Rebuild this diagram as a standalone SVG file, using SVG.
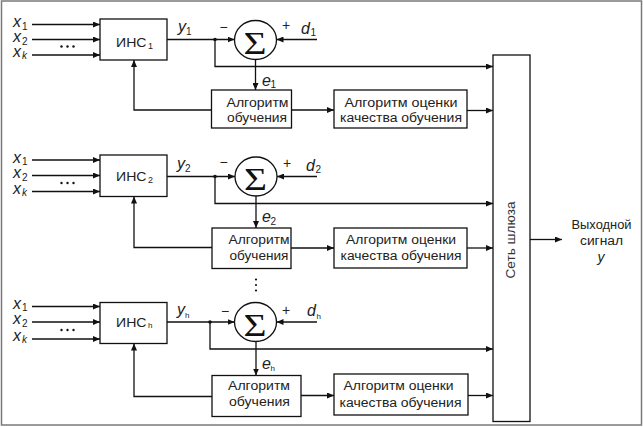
<svg xmlns="http://www.w3.org/2000/svg" width="643" height="427" viewBox="0 0 643 427">
<defs>
<marker id="ar" markerUnits="userSpaceOnUse" markerWidth="8" markerHeight="6" refX="7" refY="3" orient="auto">
<path d="M0,0 L7,3 L0,6 z" fill="#111"/>
</marker>
<style>
.ln{fill:none;stroke:#111;stroke-width:1.3}
.ln path{marker-end:url(#ar)}
.bx{fill:#fff;stroke:#111;stroke-width:1.3}
.cr{fill:#fff;stroke:#111;stroke-width:1.3}
.t{font-family:"Liberation Sans",Arial,sans-serif;font-size:12px;fill:#222}
.m{text-anchor:middle}
.i{font-family:"Liberation Sans",Arial,sans-serif;font-style:italic;font-size:16px;fill:#222}
.s{font-family:"Liberation Sans",Arial,sans-serif;font-size:10px;fill:#222;font-style:normal}
.si{font-family:"Liberation Sans",Arial,sans-serif;font-size:10px;fill:#222;font-style:italic}
.sg{font-family:"Liberation Serif","Times New Roman",serif;font-size:32px;fill:#111;text-anchor:middle}
.pm{font-family:"Liberation Sans",Arial,sans-serif;font-size:14px;fill:#222}
.dot{fill:#111}
</style>
</defs>
<rect x="0" y="0" width="643" height="427" fill="#fff"/>
<rect x="1.5" y="1" width="640" height="424" fill="#fff" stroke="#7a7a7a" stroke-width="1.5"/>

<g id="connectors" class="ln">
<path d="M32,24.5 H100"/><path d="M32,39.5 H100"/><path d="M32,55 H100"/>
<path d="M167,39.5 H234.5"/>
<path d="M317,39.5 H276.5"/>
<path d="M215,39.5 V66.5 H493"/>
<path d="M255.5,59.5 V90"/>
<path d="M291.5,110 H334"/>
<path d="M467,110.5 H493"/>
<path d="M211.5,110 H134 V60"/>
<path d="M32,160 H100"/><path d="M32,175.5 H100"/><path d="M32,191.5 H100"/>
<path d="M167,176.5 H235"/>
<path d="M317,176.5 H277"/>
<path d="M215,176.5 V203.5 H493"/>
<path d="M256,196 V228"/>
<path d="M291,248 H334"/>
<path d="M467,248 H493"/>
<path d="M212,247.5 H134 V196.5"/>
<path d="M32,306.5 H100"/><path d="M32,322 H100"/><path d="M32,339 H100"/>
<path d="M167,322 H234.5"/>
<path d="M317,322 H276.5"/>
<path d="M210,322 V349 H493"/>
<path d="M256,341.5 V375.5"/>
<path d="M301,395.5 H334"/>
<path d="M468,395.5 H493"/>
<path d="M212,396.5 H134 V343.5"/>
<path d="M530,239.5 H562"/>
</g>

<g id="junctions">
<circle class="dot" cx="215" cy="39.5" r="1.8"/>
<circle class="dot" cx="215" cy="176.5" r="1.8"/>
<circle class="dot" cx="210" cy="322" r="1.8"/>
</g>

<g id="inputs1">
<text class="i" x="13" y="27">x<tspan class="s" x="22" y="29.5">1</tspan></text>
<text class="i" x="13" y="41.5">x<tspan class="s" x="22" y="45">2</tspan></text>
<text class="i" x="13" y="56.5">x<tspan class="si" x="22" y="59">k</tspan></text>
<circle class="dot" cx="61.5" cy="46.5" r="1.2"/><circle class="dot" cx="67.5" cy="46.5" r="1.2"/><circle class="dot" cx="73.5" cy="46.5" r="1.2"/>
</g>
<g id="ins1">
<rect class="bx" x="100" y="19" width="67" height="41"/>
<text class="t" x="116" y="46.5" textLength="30.5" lengthAdjust="spacingAndGlyphs">ИНС</text>
<text class="s" x="148" y="48.5" style="font-size:9px">1</text>
</g>
<g id="labels1">
<text class="i" x="178" y="31.5">y<tspan class="s" x="186" y="34.5">1</tspan></text>
<text class="pm" x="219.5" y="31.5">−</text>
<text class="pm" x="282" y="29.5">+</text>
<text class="i" x="301" y="33.5">d<tspan class="s" x="310.5" y="36">1</tspan></text>
<text class="i" x="262" y="85.5">e<tspan class="s" x="270.5" y="88">1</tspan></text>
</g>
<g id="sum1">
<ellipse class="cr" cx="255.5" cy="40" rx="21" ry="19.5"/>
<text class="sg" x="255" y="53.5" textLength="23" lengthAdjust="spacingAndGlyphs">Σ</text>
</g>
<g id="alg1">
<rect class="bx" x="211.5" y="90" width="80" height="38"/>
<text class="t m" x="257.5" y="107" textLength="62" lengthAdjust="spacingAndGlyphs">Алгоритм</text>
<text class="t m" x="257" y="122" textLength="60" lengthAdjust="spacingAndGlyphs">обучения</text>
</g>
<g id="qual1">
<rect class="bx" x="334" y="90" width="133" height="38"/>
<text class="t m" x="401" y="107" textLength="113" lengthAdjust="spacingAndGlyphs">Алгоритм оценки</text>
<text class="t m" x="401" y="122" textLength="122" lengthAdjust="spacingAndGlyphs">качества обучения</text>
</g>

<g id="inputs2">
<text class="i" x="13" y="162.5">x<tspan class="s" x="22" y="165">1</tspan></text>
<text class="i" x="13" y="177.5">x<tspan class="s" x="22" y="181">2</tspan></text>
<text class="i" x="13" y="193.5">x<tspan class="si" x="22" y="196">k</tspan></text>
<circle class="dot" cx="61.5" cy="183" r="1.2"/><circle class="dot" cx="67.5" cy="183" r="1.2"/><circle class="dot" cx="73.5" cy="183" r="1.2"/>
</g>
<g id="ins2">
<rect class="bx" x="100" y="155" width="67" height="41.5"/>
<text class="t" x="116" y="180.5" textLength="30.5" lengthAdjust="spacingAndGlyphs">ИНС</text>
<text class="s" x="148" y="182.5" style="font-size:9px">2</text>
</g>
<g id="labels2">
<text class="i" x="177" y="168.5">y<tspan class="s" x="185" y="171.5">2</tspan></text>
<text class="pm" x="219.5" y="166.5">−</text>
<text class="pm" x="283" y="167.5">+</text>
<text class="i" x="306" y="170.5">d<tspan class="s" x="315.5" y="173">2</tspan></text>
<text class="i" x="262" y="222">e<tspan class="s" x="270.5" y="224.5">2</tspan></text>
</g>
<g id="sum2">
<ellipse class="cr" cx="256" cy="176.5" rx="21" ry="19.5"/>
<text class="sg" x="255.5" y="190" textLength="23" lengthAdjust="spacingAndGlyphs">Σ</text>
</g>
<g id="alg2">
<rect class="bx" x="212" y="228" width="79" height="40.5"/>
<text class="t m" x="259" y="243.5" textLength="61" lengthAdjust="spacingAndGlyphs">Алгоритм</text>
<text class="t m" x="259" y="260" textLength="59" lengthAdjust="spacingAndGlyphs">обучения</text>
</g>
<g id="qual2">
<rect class="bx" x="334" y="228" width="133" height="40"/>
<text class="t m" x="401" y="243.5" textLength="110" lengthAdjust="spacingAndGlyphs">Алгоритм оценки</text>
<text class="t m" x="401" y="260" textLength="121" lengthAdjust="spacingAndGlyphs">качества обучения</text>
</g>

<g id="vdots">
<circle class="dot" cx="256" cy="279.5" r="1.1"/><circle class="dot" cx="256" cy="285" r="1.1"/><circle class="dot" cx="256" cy="290.5" r="1.1"/>
</g>

<g id="inputs3">
<text class="i" x="13" y="308.5">x<tspan class="s" x="22" y="311">1</tspan></text>
<text class="i" x="13" y="323.5">x<tspan class="s" x="22" y="327">2</tspan></text>
<text class="i" x="13" y="340.5">x<tspan class="si" x="22" y="343">k</tspan></text>
<circle class="dot" cx="61.5" cy="330" r="1.2"/><circle class="dot" cx="67.5" cy="330" r="1.2"/><circle class="dot" cx="73.5" cy="330" r="1.2"/>
</g>
<g id="ins3">
<rect class="bx" x="100" y="302.5" width="67" height="41"/>
<text class="t" x="116" y="326.5" textLength="30.5" lengthAdjust="spacingAndGlyphs">ИНС</text>
<text class="s" x="148" y="328" style="font-size:8px">h</text>
</g>
<g id="labels3">
<text class="i" x="177" y="315">y<tspan class="s" x="185" y="317.5" style="font-size:8px">h</tspan></text>
<text class="pm" x="221" y="315.5">−</text>
<text class="pm" x="282" y="314.5">+</text>
<text class="i" x="307" y="316">d<tspan class="s" x="316.5" y="318.5" style="font-size:8px">h</tspan></text>
<text class="i" x="262" y="369">e<tspan class="s" x="270.5" y="371" style="font-size:8px">h</tspan></text>
</g>
<g id="sum3">
<ellipse class="cr" cx="255.5" cy="322" rx="21" ry="19.5"/>
<text class="sg" x="255" y="335.5" textLength="23" lengthAdjust="spacingAndGlyphs">Σ</text>
</g>
<g id="alg3">
<rect class="bx" x="212" y="375.5" width="89" height="41"/>
<text class="t m" x="259" y="390" textLength="62" lengthAdjust="spacingAndGlyphs">Алгоритм</text>
<text class="t m" x="259.5" y="406" textLength="61" lengthAdjust="spacingAndGlyphs">обучения</text>
</g>
<g id="qual3">
<rect class="bx" x="334" y="374" width="134" height="41"/>
<text class="t m" x="398.5" y="390" textLength="110" lengthAdjust="spacingAndGlyphs">Алгоритм оценки</text>
<text class="t m" x="400.5" y="406.5" textLength="122" lengthAdjust="spacingAndGlyphs">качества обучения</text>
</g>

<g id="gateway">
<rect class="bx" x="493" y="55" width="37" height="366.5"/>
<text class="t m" transform="translate(515,240) rotate(-90)" textLength="77" lengthAdjust="spacingAndGlyphs" style="fill:#333">Сеть шлюза</text>
</g>
<g id="output">
<text class="t m" x="601.5" y="228.5" textLength="60" lengthAdjust="spacingAndGlyphs">Выходной</text>
<text class="t m" x="601.5" y="245" textLength="43" lengthAdjust="spacingAndGlyphs">сигнал</text>
<text class="i m" x="601" y="262" style="font-size:14px">y</text>
</g>
</svg>
